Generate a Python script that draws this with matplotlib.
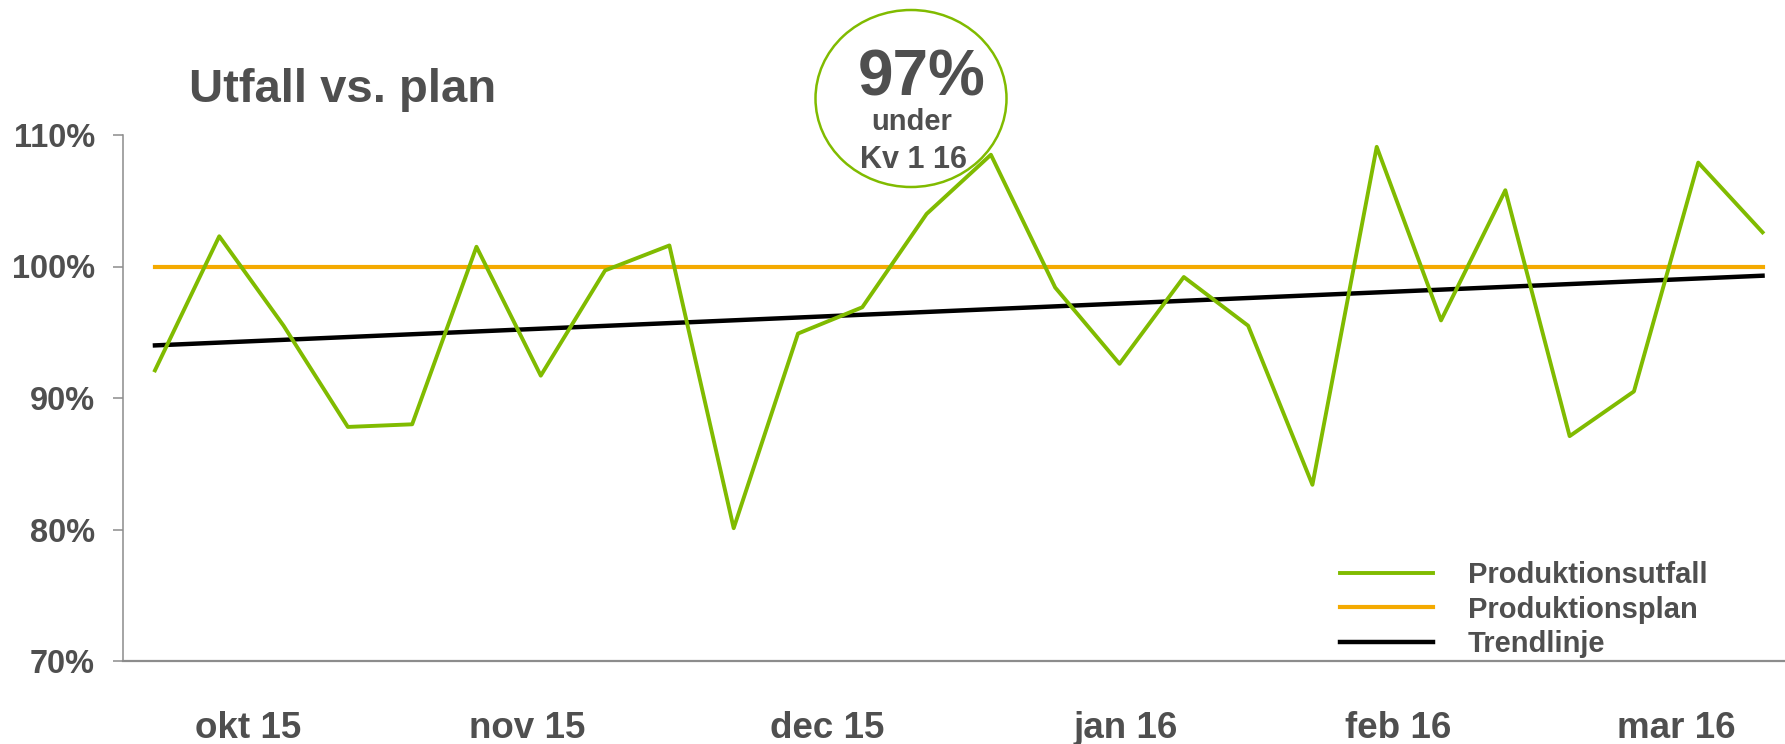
import numpy as np
import matplotlib.pyplot as plt
from matplotlib.patches import Ellipse

plt.rcParams['font.family'] = ['Liberation Sans', 'DejaVu Sans']
plt.rcParams['font.weight'] = 'bold'

# --- DATA ---
utfall = [92.1, 102.3, 95.5, 87.8, 88.0, 101.5, 91.7, 99.7, 101.6, 80.1,
          94.9, 96.9, 104.0, 108.5, 98.4, 92.6, 99.2, 95.5, 83.4, 109.1,
          95.9, 105.8, 87.1, 90.5, 107.9, 102.6]
plan_value = 100.0
trend_start = 94.0
trend_end = 99.3
month_labels = ["okt 15", "nov 15", "dec 15", "jan 16", "feb 16", "mar 16"]
month_pos = [1.45, 5.79, 10.45, 15.09, 19.33, 23.66]
y_ticks = [70, 80, 90, 100, 110]

GREEN = "#80BB00"
ORANGE = "#F4AA00"
TEXT = "#4F4F4F"
AXIS = "#8C8C8C"

W, H = 1785, 744
fig = plt.figure(figsize=(W / 100, H / 100), dpi=100)


def fx(px):
    return px / W


def fy(py):
    return 1 - py / H


# axes box from pixel measurements (x-axis category span -0.5 .. 25.5)
ax = fig.add_axes([fx(122.8), fy(661), fx(1794.7) - fx(122.8), fy(135) - fy(661)])

x = np.arange(len(utfall))
ax.plot(x, utfall, color=GREEN, linewidth=2.8, label="Produktionsutfall", zorder=3)
ax.plot([x[0], x[-1]], [plan_value, plan_value], color=ORANGE, linewidth=3.0,
        label="Produktionsplan", zorder=2)
ax.plot([x[0], x[-1]], [trend_start, trend_end], color="black", linewidth=3.2,
        label="Trendlinje", zorder=2)

ax.set_xlim(-0.5, 25.5)
ax.set_ylim(70, 110)
ax.set_yticks(y_ticks)
ax.set_yticklabels([f"{v}%" for v in y_ticks])
ax.set_xticks(month_pos)
ax.set_xticklabels(month_labels)

ax.tick_params(axis="y", length=7, width=1.1, color=AXIS, labelsize=23.5,
               labelcolor=TEXT, pad=13)
ax.tick_params(axis="x", length=0, labelsize=26.5, labelcolor=TEXT, pad=36)

for side in ["top", "right"]:
    ax.spines[side].set_visible(False)
ax.spines["left"].set_color(AXIS)
ax.spines["left"].set_linewidth(1.1)
ax.spines["bottom"].set_color(AXIS)
ax.spines["bottom"].set_linewidth(1.6)

leg = ax.legend(loc="upper left", bbox_to_anchor=(fx(1340), fy(561)),
                bbox_transform=fig.transFigure, frameon=False, fontsize=21,
                handlelength=3.19, handletextpad=1.2, labelspacing=0.226,
                borderaxespad=0, borderpad=0)
for t in leg.get_texts():
    t.set_color(TEXT)

# title
fig.text(fx(189), fy(102), "Utfall vs. plan", fontsize=34, color=TEXT,
         ha="left", va="baseline")

# callout circle
fig.patches.append(Ellipse((fx(911), fy(98.5)), fx(191), 177 / H,
                           transform=fig.transFigure, fill=False,
                           edgecolor=GREEN, linewidth=1.8, zorder=5))
fig.text(fx(922), fy(96), "97%", fontsize=46, color=TEXT, ha="center", va="baseline")
fig.text(fx(912), fy(130), "under", fontsize=21, color=TEXT, ha="center", va="baseline")
fig.text(fx(913), fy(168), "Kv 1 16", fontsize=22, color=TEXT, ha="center", va="baseline")

fig.savefig("out.png", dpi=100)
